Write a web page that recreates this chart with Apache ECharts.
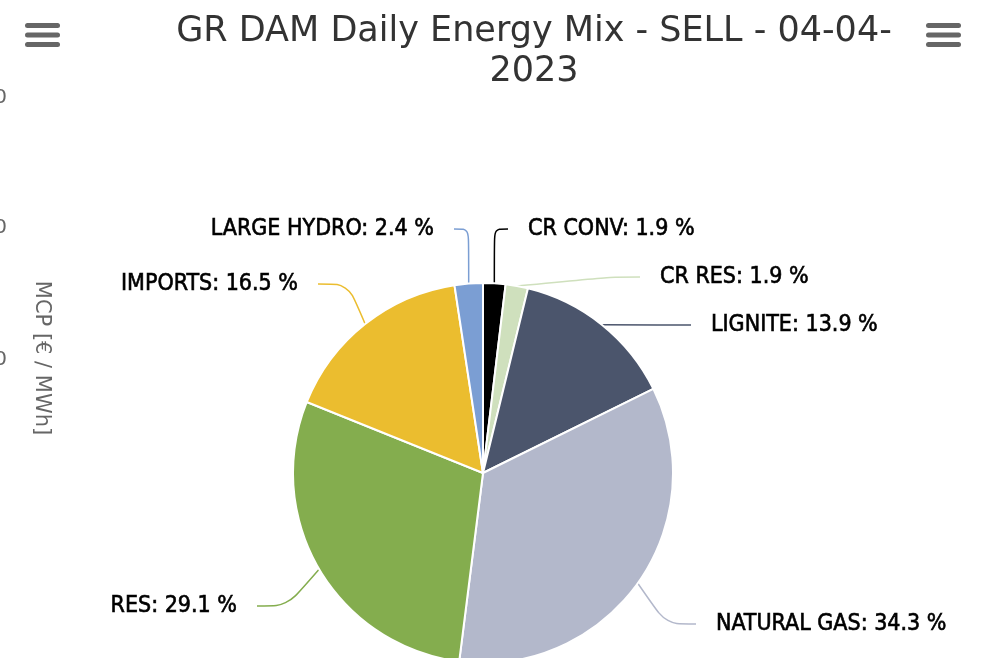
<!DOCTYPE html>
<html><head><meta charset="utf-8">
<script src="https://cdn.jsdelivr.net/npm/echarts@6/dist/echarts.min.js"></script>
<style>html,body{margin:0;padding:0;background:#fff}#c{width:984px;height:658px}</style>
</head><body><div id="c"></div>
<script>
const titleText = 'GR DAM Daily Energy Mix - SELL - 04-04-\n2023';
const categories = ['CR CONV', 'CR RES', 'LIGNITE', 'NATURAL GAS', 'RES', 'IMPORTS', 'LARGE HYDRO'];
const shares = [1.9, 1.9, 13.9, 34.3, 29.1, 16.5, 2.4];
const sliceColors = ['#000000', '#cfe0bd', '#4b556c', '#b3b8cb', '#84ad4e', '#ebbd2f', '#7b9ed3'];
const axisTickLabels = ['0', '0', '0'];
const axisName = 'MCP [€ / MWh]';

// label placement (layout only): text edge x, centre y, side
const labelPos = [
  [528, 229, 'left'],
  [660, 277, 'left'],
  [711, 325, 'left'],
  [716, 624, 'left'],
  [237, 606, 'right'],
  [298, 284, 'right'],
  [434, 229, 'right']
];
const labelGap = 20;
const tickY = [98, 228, 360];

const chart = echarts.init(document.getElementById('c'), null, {renderer: 'canvas'});
const graphics = [];
[25, 926].forEach(x0 => {
  [23, 32.5, 42].forEach(y => graphics.push({type: 'rect', shape: {x: x0, y: y, width: 35, height: 5, r: 2.5}, style: {fill: '#666'}}));
});
axisTickLabels.forEach((t, i) => graphics.push({type: 'text', x: 7, y: tickY[i], style: {text: t, fill: '#666', font: '20px "DejaVu Sans"', textAlign: 'right', textVerticalAlign: 'middle'}}));
graphics.push({type: 'text', x: 41, y: 358, rotation: -Math.PI / 2, style: {text: axisName, fill: '#666', font: '21px "DejaVu Sans"', textAlign: 'center', textVerticalAlign: 'middle'}});

chart.setOption({
  animation: false,
  title: {
    text: titleText, left: 529, textAlign: 'center', top: 7,
    textStyle: {fontFamily: 'DejaVu Sans', fontSize: 35, fontWeight: 'normal', color: '#333', lineHeight: 40}
  },
  graphic: graphics,
  series: [{
    type: 'pie',
    center: [483, 473],
    radius: 190,
    startAngle: 90,
    clockwise: true,
    data: categories.map((c, i) => ({name: c, value: shares[i], itemStyle: {color: sliceColors[i]}})),
    itemStyle: {borderColor: '#fff', borderWidth: 2},
    label: {
      formatter: p => p.name + ': ' + p.value.toFixed(1) + ' %',
      fontFamily: 'DejaVu Sans Condensed', fontSize: 23, fontWeight: 'normal', color: '#000',
      textBorderColor: '#000', textBorderWidth: 0.6,
      backgroundColor: 'rgba(255,255,255,0)',
      padding: [0, labelGap, 0, labelGap]
    },
    labelLine: {show: true, smooth: 0.3, lineStyle: {width: 1.5}},
    labelLayout: p => {
      const q = labelPos[p.dataIndex];
      const x = q[2] === 'left' ? q[0] - labelGap : q[0] + labelGap;
      return {x: x, y: q[1], align: q[2], verticalAlign: 'middle'};
    }
  }]
});
</script></body></html>
